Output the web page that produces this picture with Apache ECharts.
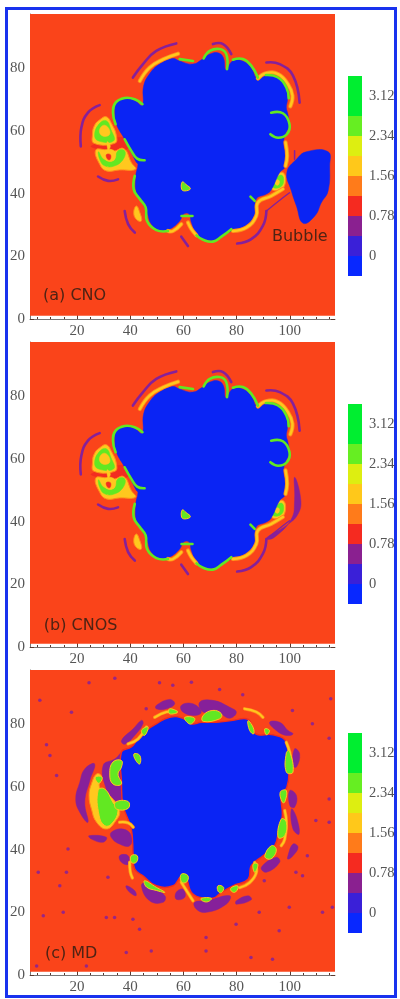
<!DOCTYPE html>
<html>
<head>
<meta charset="utf-8">
<title>CNO / CNOS / MD</title>
<script src="https://cdn.jsdelivr.net/npm/echarts@6/dist/echarts.min.js"></script>
<style>
html,body{margin:0;padding:0;background:#fff;}
#main{width:400px;height:999px;filter:blur(0.5px);}
</style>
</head>
<body>
<div id="main"></div>
<script>
// axis values
var xRange = [2.3, 117],
	yRange = [0, 97.4],
	floorY = 1,
	xTicks = [20, 40, 60, 80, 100],
	yTicks = [0, 20, 40, 60, 80],
	xMinor = [5, 10, 15, 25, 30, 35, 45, 50, 55, 65, 70, 75, 85, 90, 95, 105, 110, 115],
	yMinor = [5, 10, 15, 25, 30, 35, 45, 50, 55, 65, 70, 75, 85, 90, 95];

// colour bar values
var barEdges = [-0.39, 0, 0.39, 0.78, 1.17, 1.56, 1.95, 2.34, 2.73, 3.12, 3.51],
	barTicks = [0, 0.78, 1.56, 2.34, 3.12],
	barColors = ["#0828ff", "#3a20d8", "#8a2090", "#f52a20", "#ff7b1a", "#ffc81a", "#ddee11", "#66ee22", "#00ee30", "#00ee30"];

var panelNames = ["(a) CNO", "(b) CNOS", "(c) MD"],
	panelLabelPos = [[7.2, 7.3], [7.5, 6.9], [7.9, 6.9]],
	bubbleName = "Bubble",
	bubbleNamePos = [93.3, 26.2];

// blue region of CNO and CNOS, traced clockwise
var cnoBlob = [[44.5,68.3],[45,74.3],[47.2,78.2],[51,81.4],[56,83.2],[58.5,82.4],[63.5,81.4],[67.2,83],[70,84.6],[73,85],[75,83.5],[76,79.6],[78.5,82.4],[82.2,82.4],[85.4,80.3],[87.9,76.6],[91,77.9],[95.4,77.4],[98.5,73.9],[99.1,70.2],[98.7,67.5],[99.3,65.4],[99.7,61.7],[98.1,58.5],[97.7,55.3],[98.7,52.1],[98.1,48.4],[96.2,46.8],[93,41.2],[91.2,39.9],[87.4,38.3],[87.2,34],[84.9,30.8],[81.2,28.9],[78,28.1],[74.9,26.5],[72.4,25.3],[68.6,25.3],[64.9,27.1],[63,30.8],[62.1,33.5],[60.1,33.5],[58.6,31.3],[54.8,28.7],[51.1,28.1],[47.9,30.3],[46.3,34],[44.2,37.7],[42.3,40.4],[42.1,45.7],[42.9,49.4],[42.3,50],[40.4,53.2],[37.9,57.4],[34.8,62.2],[34.2,65.9],[34.8,69.1],[38.5,70.4],[41.7,69.7]];
var cnoBubble = [[98.9,46.8],[102.5,51],[106.2,53.4],[114.4,53.4],[115,48.9],[114.4,40.9],[111.9,37.2],[109.4,32.9],[105,30.6],[102.5,36.1],[100.6,40.9]];

var cnoPurpleArcs = [
	[[41,77.1],[44.8,81.4],[49.8,85.6],[57.3,88]],
	[[91.2,81.9],[96.2,81.4],[101.2,77.7],[103.7,69.1]],
	[[28.5,68.3],[24.1,65.9],[21.6,61.1],[21.4,55.1]],
	[[27.9,45.5],[31.7,44.1],[35.4,44.6]],
	[[37.9,34.5],[39.2,30.3],[41.7,27.6]],
	[[59.2,26.3],[61.7,23.3]],
	[[80.2,24.1],[85.5,25.5],[89.9,29.8],[91.2,34.5]],
	[[71.1,87.8],[74.9,87.8],[78,84.6]]
];
var cnoFadeArc = [[91.2,34.5],[97.4,38.7],[99.9,40.3]];
var cnoShortArc = [[101.8,53.7],[101.8,51]];
var cnosCrescent = [[101.8,54.2],[104.1,47.3],[103.1,42.5],[98.7,38.8],[92.4,35.6],[91.2,34.5],[94,34.9],[100.6,40.9],[101.8,46.8]];

var cnoYellowRims = [
	[[43.6,76],[47.3,80.3],[52.3,82.9],[58,84.7]],
	[[88,76.8],[91,78.5],[95.6,78.2],[99.3,75],[101,71.3],[100.2,67.9]],
	[[78.6,28.1],[83.7,29.2],[87.4,32.9],[88,37.2],[93,39.3],[97.4,41.5]],
	[[98.4,56.4],[99,52.1],[98.4,48.9]],
	[[54.2,28.1],[56.1,28.1],[59.2,30.3]],
	[[61.7,30.8],[63,28.7],[64.9,26.7]]
];
var cnoGreenRims = [
	[[34.5,62.2],[33.5,65.9],[34.5,69.1],[37.9,70.6],[41.7,70.2],[44.6,68.6]],
	[[37.9,57.4],[40.4,53.7],[42.6,51.2],[45.4,50.7]],
	[[41.7,45.7],[41.3,41.4],[43.6,38.3],[45.8,35.6],[46.3,31.3],[49.8,28.4],[54.2,28.1]],
	[[64.9,26.7],[67.4,25.3],[71.1,24.7],[74.3,26.3],[78,28.7]],
	[[58.6,83],[63.6,82.4]],
	[[67.6,83.2],[69.9,85.6],[73.6,86.2],[76.1,84.6],[76.4,79.8]],
	[[78.6,82.8],[82.4,83],[85.5,80.9],[88,77.1]],
	[[93,65.9],[97.4,65.7],[99.9,62.2],[98.9,59],[95.6,57.9],[92.7,59]],
	[[59.3,32.9],[63.4,32.9]],
	[[85.2,39.1],[86.8,37.7]],
	[[91,77.9],[95.4,77.2],[98.7,74],[99.6,70.5]]
];

// side clumps of CNO and CNOS, back to front
var cnoRedPatch = [[25.4,55.3],[37.3,58],[39.2,54.8],[37,54],[28.5,54.2]];
var cnoYellowPatches = [
	[[28.5,63.6],[31,64.6],[32.9,62.5],[34.8,58.5],[34.2,56.1],[26.4,56.1],[25.8,59],[26.6,61.9]],
	[[27,53.9],[31,54],[33.5,53.5],[37.6,54.4],[40.4,50],[42,47.8],[36,47.6],[31,47.3],[28.5,49.4]],
	[[92.7,43.6],[94.3,45.7],[97.4,46.8],[98.4,44.1],[96.8,41.4],[93,41.4]],
	[[42.3,36.1],[43.6,34],[44.2,31.3],[42.3,31.8],[41.3,34]]
];
var cnoGreenPatches = [
	[[28.5,62.5],[31,63.3],[32.7,60.6],[33.8,56.9],[27.9,56.9],[26.6,59]],
	[[28.1,53.4],[30,51],[33.5,50.5],[35.4,53.7],[37.9,53.7],[37.5,51.2],[34.2,48.9],[30.4,48.9],[28.5,51]],
	[[93.4,43.4],[94.8,45],[97,45.9],[97.7,44],[96.4,42.1],[93.6,42]],
	[[59.6,43.8],[60.9,43],[62.6,41.6],[60.5,40.9],[59.3,41.5]]
];
var cnoCoreYellow = [
	[[30.4,61.9],[32.3,60.1],[31.7,58.5],[29.1,58.7],[28.5,60.6]],
	[[31.3,56.6],[32.5,55.3],[31.7,54]],
	[[30.4,53.7],[34,53.7],[34,50.8],[30.8,50.8]],
	[[94.5,44.3],[96,44.2],[95.7,42.8],[94.6,43]]
];
var cnoCoreRed = [[31,52.5],[32.5,52.5],[32.5,51],[31.5,51]];

// MD panel
var mdBlob = [[36.7,71.2],[40.4,72.8],[42.9,75.4],[46.1,78.1],[49.8,80.2],[54.8,82.3],[59.8,82],[63,80.2],[66.7,80.7],[72.4,80.7],[78.6,81.3],[84.3,81.6],[87.2,77],[93.7,76.7],[98.7,74.3],[99.7,64.8],[98.9,60],[96.8,57.3],[97.2,50.9],[95.9,46.6],[94.3,41.3],[89.9,38.1],[85.5,34.9],[84.3,30.6],[78.6,28.5],[74.3,26.4],[71.1,24.5],[66.1,24.8],[63,26.4],[61.1,30.6],[59.2,31.5],[56.1,28.5],[49.8,28.5],[44.8,31.7],[41.7,33.8],[41.1,38.1],[40.4,46.6],[37.3,54.1],[36.7,61.6]];
var mdPurplePatches = [
	[[49.8,86.1],[54.8,88],[56.7,86.6],[53.6,85],[49.8,85]],
	[[59.2,86.1],[63.6,86.6],[66.7,84],[64.2,82.9],[59.8,84]],
	[[66.1,87.1],[71.1,87.7],[77.4,85.5],[79.9,83.9],[77.4,82],[73.6,83.4],[67.4,84]],
	[[36.7,74.9],[41.1,78.6],[44.2,81.3],[44.8,80.2],[41.7,76.5],[38,73.7]],
	[[92.4,80.7],[96.2,80.7],[99.3,78.1],[101.2,77],[98.7,76.5],[94.9,78.1]],
	[[101.8,72.2],[103.7,70.6],[102.5,66.4],[101.2,66.9]],
	[[100,58.9],[102.5,57.3],[101.8,53.6],[100,54.1]],
	[[100.6,53],[102.5,50.4],[103.5,45],[101.2,46.6]],
	[[99.3,38.1],[101.2,41.8],[103.1,40.8],[101.2,38.1],[99.3,37]],
	[[89.3,34.4],[94.9,37.6],[96.2,36],[91.2,32.8]],
	[[79.9,23.7],[84.3,25.3],[85.5,24],[79.9,22.6]],
	[[64.2,23.2],[68.6,23.7],[77.4,25.3],[76.1,22.6],[68.6,20],[64.9,21]],
	[[57.3,26.4],[59.8,27.4],[60.5,24.8],[57.3,24.2]],
	[[44.2,28.5],[46.1,29.5],[53,25.3],[52.3,23.2],[47.3,23.7]],
	[[38.5,28.5],[41.7,26.9],[42.1,25.3],[39.2,26.9]],
	[[36,38.1],[39.2,38.1],[39.2,35.4],[36.7,36]],
	[[32.9,45.6],[37.3,46.6],[40.4,44.5],[39.8,41.3],[36,41.8],[32.9,43.9]],
	[[24.5,44.5],[31,44],[29.8,42.4],[25.4,43.4]],
	[[22.9,65.8],[26.6,67.4],[24.8,62.1],[22.9,55.2],[24.1,48.8],[21,52],[19.5,56.2],[21,61.5]],
	[[29.8,66.9],[34.2,69],[37.3,71.2],[36.7,61.6],[37.3,54.1],[34.8,53.6],[31,59.4]]
];
var mdYellowPatch = [[27.3,64.2],[29.1,63.6],[28.5,59.9],[32.3,57.3],[36,52.5],[34.2,48.8],[31,46.6],[27.3,48.8],[25.4,53],[24.5,57.3],[25.4,61]];
var mdYellowRims = [
	[[36,48.8],[39.2,48.6],[41.1,47.2]],
	[[39.8,36],[40,33],[40.8,31]],
	[[59.2,29.6],[62.4,25.3],[63.6,23.7]],
	[[81.2,27.9],[84.9,29.5],[87.4,32.7],[86.8,35.9]],
	[[98.1,52.5],[98.7,48.8],[98.1,43.4],[96.8,41.3]],
	[[83,85],[87.4,84],[89.9,82.3]],
	[[49.2,82.3],[53.6,84],[57.3,84]],
	[[39.2,73.8],[42.9,75.4],[46.1,79.2]],
	[[98.7,74.3],[100,71],[100.5,67]]
];
var mdGreenPatches = [
	[[27.9,58.9],[30.4,59.4],[33.5,55.1],[35.4,52.4],[32.9,48.2],[30.4,47.7],[28.3,50.9]],
	[[26.9,63.2],[29.4,63.2],[28.5,61.3],[27.5,61.6]],
	[[33.5,68],[36.7,68.5],[36.7,66.4],[35.4,64.2],[36.7,61],[33.5,61],[32.3,64.2]],
	[[34.5,55.2],[39.2,55.4],[39.2,53.2],[34.8,53]],
	[[41.4,70.6],[43.6,70.1],[43.6,67.4],[42.1,68.5]],
	[[40.4,38.1],[42.6,38.1],[42.3,36],[40.4,36]],
	[[45.4,30.1],[49.8,28],[53,26.4],[49.8,27],[46.1,28.1]],
	[[59.2,32.2],[61.7,31.7],[61.1,29.6],[59.2,29.8]],
	[[66.7,24.5],[70.5,24.5],[69.2,23.4],[67.1,23.7]],
	[[73,28.5],[75.1,28],[74.3,26.3],[73,26.8]],
	[[78,27.9],[80.5,28.4],[79.6,26.5],[78,26.8]],
	[[86.2,35.4],[88,35.4],[86.8,32.8]],
	[[90.6,38.1],[93.1,41.3],[94.9,40.2],[93.7,37.6],[91.8,37]],
	[[96.8,49.8],[98.7,48.8],[98.1,44.5],[95.6,44]],
	[[96.4,58.4],[98.7,58.9],[98.1,55.2],[97.2,55.2]],
	[[98.7,71],[99.9,71.5],[101.2,64.8],[98.7,64.8]],
	[[90.6,78.6],[92.4,78.1],[91.2,76.7]],
	[[84.3,81.2],[86.2,79.1],[86.4,77],[84.9,78.1]],
	[[67.4,82.9],[71.1,84.5],[74.3,83.4],[73.6,81.8],[67.4,81]],
	[[60.5,82.3],[64.2,82],[63,80.2],[61.4,80.7]],
	[[44.2,78.1],[46.7,79.2],[45.4,76.5]],
	[[54.8,85],[57.8,84],[54.8,83.4]]
];
var mdSpecks = [[34.2,94.8],[24.5,93.3],[63,93.5],[73.6,91.2],[6,87.7],[51,93.3],[82.3,89.5],[56,92.5],[101,84.5],[17.9,83.9],[46,85],[8.5,73.5],[114.8,75.6],[12.3,63.7],[16.6,40.2],[7.3,18.9],[14.8,20],[34.1,18.4],[31,18.4],[31.6,31.2],[79.8,16.2],[47.9,7.7],[112.3,20],[116,21.6],[93.5,5],[23.5,2.9],[4.8,2.9],[106.6,38.1],[96,14.1],[99.8,21.6],[90.4,30.1],[88.5,20],[114.8,48.8],[109.8,49.3],[102.3,32.8],[104.8,31.7],[9.8,70.1],[5.4,32.8],[16,32.8],[43.5,14.6],[41,17.8],[68.5,12],[38.5,7.2],[68.5,7.7],[85.4,5.6],[13.5,28.5],[108.5,80.2],[114.8,56.2],[115.4,88.2]];

var plotArea = [[xRange[0],floorY],[xRange[1],floorY],[xRange[1],yRange[1]],[xRange[0],yRange[1]]];

// colours of the map
var cBack = "#fa441a", cBlue = "#0a24f4", cPurple = "#86209a", cRed = "#f22c20",
	cOrange = "#ff8a1a", cYellow = "#ffc81e", cGreen = "#62e822";

function fills(list, color, border, width){
	return list.map(function(p){
		return {type:"polygon", pts:p, fill:color, stroke:border || color, width:width || 0.5};
	});
}
function lines(list, color, width){
	return list.map(function(p){
		return {type:"polyline", pts:p, stroke:color, width:width};
	});
}

var backLayer = fills([plotArea], cBack).map(function(l){ l.flat = true; return l; });

var cnoCommon = [].concat(
	lines(cnoPurpleArcs, cPurple, 2.6),
	lines([cnoFadeArc], cPurple, 1.4),
	fills([cnoRedPatch], cRed),
	fills(cnoYellowPatches, cYellow, cOrange, 1),
	fills(cnoGreenPatches, cGreen),
	fills(cnoCoreYellow, cYellow),
	fills([cnoCoreRed], cRed),
	fills([cnoBlob], cBlue),
	lines(cnoYellowRims, cOrange, 4.2),
	lines(cnoYellowRims, cYellow, 2.4),
	lines(cnoGreenRims, cGreen, 2.6),
	fills([cnoGreenPatches[3]], cGreen, cYellow, 1)
);

var panelLayers = [
	backLayer.concat(lines([cnoShortArc], cPurple, 1.5), fills([cnoBubble], cBlue), cnoCommon),
	backLayer.concat(fills([cnosCrescent], cPurple), cnoCommon),
	backLayer.concat(
		fills(mdPurplePatches, cPurple),
		fills([mdYellowPatch], cYellow, cOrange, 1),
		fills([mdBlob], cBlue, cRed, 1.4),
		lines(mdYellowRims, cOrange, 3.4),
		lines(mdYellowRims, cYellow, 2),
		fills(mdGreenPatches, cGreen, cYellow, 1)
	)
];

var panelTops = [14, 342, 670],
	barTops = [76, 404, 733],
	panelSize = 305;

var grids = [], xAxes = [], yAxes = [], seriesList = [];
var axisFont = "Liberation Serif";

function addX(grid, pos, ticks, len, withLabel, withLine){
	xAxes.push({
		type:"value", gridIndex:grid, position:pos, min:xRange[0], max:xRange[1],
		axisLine:{show:withLine, onZero:false, lineStyle:{color:"#777", width:1}},
		axisTick:{show:true, inside:true, length:len, customValues:ticks, lineStyle:{color:"#5a3a30", width:1}},
		axisLabel:{show:withLabel, customValues:ticks, margin:5, color:"#555", fontFamily:axisFont, fontSize:15},
		splitLine:{show:false}
	});
	return xAxes.length - 1;
}
function addY(grid, pos, ticks, len, withLabel, withLine){
	yAxes.push({
		type:"value", gridIndex:grid, position:pos, min:yRange[0], max:yRange[1],
		axisLine:{show:withLine, onZero:false, lineStyle:{color:"#777", width:1}},
		axisTick:{show:true, inside:true, length:len, customValues:ticks, lineStyle:{color:"#5a3a30", width:1}},
		axisLabel:{show:withLabel, customValues:ticks, margin:5, color:"#555", fontFamily:axisFont, fontSize:15},
		splitLine:{show:false}
	});
	return yAxes.length - 1;
}

panelTops.forEach(function(top, i){
	// map panel
	grids.push({left:30, top:top, width:panelSize, height:panelSize});
	var g = grids.length - 1;
	var xi = addX(g, "bottom", xTicks, 4, true, true);
	addX(g, "bottom", xMinor, 2, false, false);
	addX(g, "top", xTicks, 4, false, false);
	addX(g, "top", xMinor, 2, false, false);
	var yi = addY(g, "left", yTicks, 4, true, true);
	addY(g, "left", yMinor, 2, false, false);
	addY(g, "right", yTicks, 4, false, false);
	addY(g, "right", yMinor, 2, false, false);

	var layers = panelLayers[i];
	seriesList.push({
		type:"custom", coordinateSystem:"cartesian2d", xAxisIndex:xi, yAxisIndex:yi,
		silent:true, clip:false, z:2,
		data:layers.map(function(l, n){ return [n, 0]; }),
		renderItem:function(params, api){
			var l = layers[params.dataIndex];
			var pts = l.pts.map(function(p){ return api.coord(p); });
			if(l.type == "polygon"){
				return {type:"polygon", shape:{points:pts, smooth:l.flat ? 0 : 0.45},
					style:{fill:l.fill, stroke:l.flat ? null : l.stroke, lineWidth:l.width}};
			}
			return {type:"polyline", shape:{points:pts, smooth:0.45},
				style:{fill:null, stroke:l.stroke, lineWidth:l.width, lineCap:"round", lineJoin:"round"}};
		}
	});

	if(i == 2){
		seriesList.push({
			type:"scatter", xAxisIndex:xi, yAxisIndex:yi, silent:true, z:3,
			symbolSize:3.5, data:mdSpecks, itemStyle:{color:"#86209a", opacity:0.85}
		});
	}

	// text on the map
	var texts = [{t:panelNames[i], p:panelLabelPos[i]}];
	if(i == 0) texts.push({t:bubbleName, p:bubbleNamePos});
	seriesList.push({
		type:"custom", coordinateSystem:"cartesian2d", xAxisIndex:xi, yAxisIndex:yi,
		silent:true, clip:false, z:5,
		data:texts.map(function(l, n){ return [n, 0]; }),
		renderItem:function(params, api){
			var item = texts[params.dataIndex];
			var c = api.coord(item.p);
			return {type:"text", style:{text:item.t, x:c[0], y:c[1], fill:"#4f2314",
				font:"16px 'DejaVu Sans'", textAlign:"left", textVerticalAlign:"middle"}};
		}
	});

	// colour bar
	grids.push({left:348, top:barTops[i], width:14, height:200});
	var bg = grids.length - 1;
	xAxes.push({type:"value", gridIndex:bg, min:0, max:1, show:false});
	yAxes.push({
		type:"value", gridIndex:bg, position:"right", min:barEdges[0], max:barEdges[barEdges.length-1],
		axisLine:{show:false},
		axisTick:{show:true, inside:false, length:3, customValues:barTicks, lineStyle:{color:"#666"}},
		axisLabel:{show:true, customValues:barTicks, margin:7, color:"#555", fontFamily:axisFont, fontSize:14.5,
			formatter:function(v){ return String(v); }},
		splitLine:{show:false}
	});
	seriesList.push({
		type:"custom", coordinateSystem:"cartesian2d", xAxisIndex:xAxes.length-1, yAxisIndex:yAxes.length-1,
		silent:true, z:2,
		data:barColors.map(function(c, n){ return [n, 0]; }),
		renderItem:function(params, api){
			var n = params.dataIndex;
			var a = api.coord([0, barEdges[n]]), b = api.coord([1, barEdges[n+1]]);
			return {type:"rect", shape:{x:a[0], y:b[1], width:b[0]-a[0], height:a[1]-b[1]},
				style:{fill:barColors[n]}};
		}
	});
});

var myChart = echarts.init(document.getElementById("main"));
myChart.setOption({
	animation:false,
	backgroundColor:"#fff",
	grid:grids,
	xAxis:xAxes,
	yAxis:yAxes,
	series:seriesList,
	// blue frame round the whole figure
	graphic:[{type:"rect", silent:true, shape:{x:6.5, y:8.5, width:389, height:988},
		style:{fill:null, stroke:"#1832ee", lineWidth:3}}]
});
</script>
</body>
</html>
